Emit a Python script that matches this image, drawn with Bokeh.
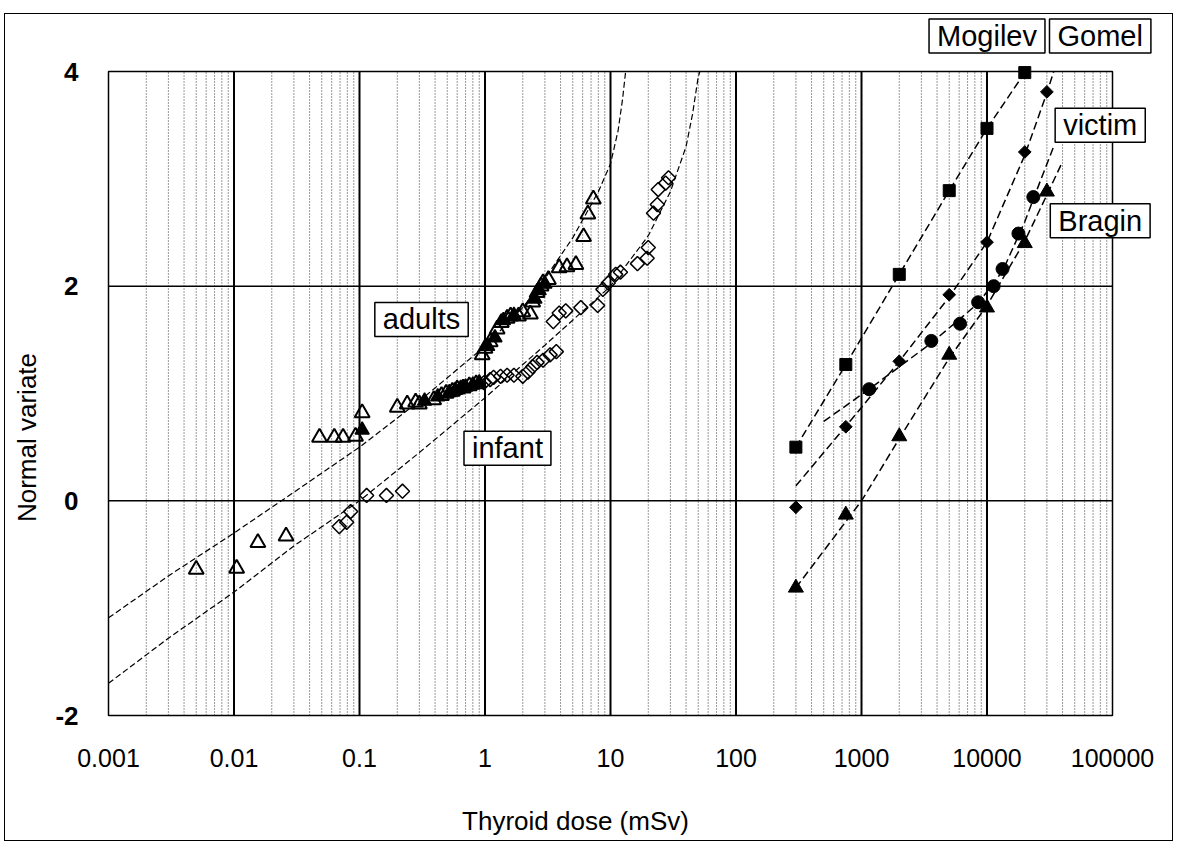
import math
from bokeh.plotting import figure
from bokeh.models import FixedTicker, Label, Range1d
from bokeh.embed import file_html
from bokeh.resources import INLINE

# ---------------- data ----------------
x_tick_labels = ["0.001", "0.01", "0.1", "1", "10", "100", "1000", "10000", "100000"]
y_tick_values = [-2, 0, 2, 4]
y_tick_labels = ["-2", "0", "2", "4"]

# adults (open triangles)
adults_x = [0.005, 0.0105, 0.0155, 0.026, 0.048, 0.063, 0.074, 0.093, 0.105, 0.20, 0.24,
            0.28, 0.30, 0.39, 0.45, 0.49, 0.55, 0.60, 0.67, 0.75, 0.85, 0.95, 1.0, 1.1,
            1.25, 1.35, 1.5, 1.6, 1.85, 2.0, 2.3, 2.4, 2.6, 2.8, 2.9, 3.2, 3.9, 4.5, 5.3,
            6.1, 6.6, 7.3]
adults_y = [-0.64, -0.63, -0.39, -0.33, 0.59, 0.59, 0.59, 0.60, 0.82, 0.87, 0.90,
            0.92, 0.90, 0.94, 0.98, 1.00, 1.02, 1.04, 1.05, 1.07, 1.09, 1.36, 1.42, 1.48,
            1.60, 1.66, 1.70, 1.72, 1.72, 1.76, 1.74, 1.85, 1.94, 2.00, 2.03, 2.06, 2.17,
            2.18, 2.20, 2.46, 2.67, 2.81]
# adults points that print solid (overlapping)
adults_solid_x = [0.105, 0.33, 0.42, 0.52, 0.58, 0.64, 0.70, 0.80, 0.90, 1.05, 1.2, 1.4,
                  1.7, 2.5, 2.7, 3.0]
adults_solid_y = [0.66, 0.93, 0.97, 1.01, 1.03, 1.05, 1.06, 1.08, 1.10, 1.44, 1.52, 1.68,
                  1.73, 1.88, 1.96, 2.02]

# infant (open diamonds)
infant_x = [0.069, 0.079, 0.085, 0.114, 0.164, 0.22, 0.98, 1.1, 1.17, 1.33, 1.5, 1.7,
            2.0, 2.2, 2.4, 2.6, 2.9, 3.3, 3.7, 3.5, 3.9, 4.4, 5.8, 7.9, 8.7, 9.6, 11,
            12, 16.4, 19.6, 20, 22, 23.6, 24, 27.5, 29]
infant_y = [-0.24, -0.20, -0.10, 0.05, 0.05, 0.09, 1.10, 1.13, 1.15, 1.16, 1.17, 1.17,
            1.16, 1.20, 1.25, 1.29, 1.31, 1.36, 1.39, 1.67, 1.75, 1.77, 1.80, 1.82, 1.97,
            2.03, 2.11, 2.13, 2.21, 2.26, 2.36, 2.68, 2.76, 2.90, 2.96, 3.01]

# fitted curves (left), ending where they leave the plot area
adults_fit_x = [0.001, 0.003, 0.01, 0.03, 0.1, 0.3, 1, 2, 3, 5, 8, 10, 11.5, 12.5, 13.2]
adults_fit_y = [-1.09, -0.70, -0.30, 0.08, 0.50, 0.93, 1.44, 1.80, 2.07, 2.45, 2.88,
                3.14, 3.45, 3.75, 4.00]
infant_fit_x = [0.001, 0.003, 0.01, 0.03, 0.1, 0.3, 1, 3, 10, 20, 30, 40, 45, 50, 51.5]
infant_fit_y = [-1.70, -1.28, -0.85, -0.42, 0.0, 0.45, 0.96, 1.45, 2.0, 2.47, 2.88,
                3.30, 3.60, 3.95, 4.00]

# right-hand groups
mogilev_x = [300, 750, 2000, 5000, 10000, 20000]
mogilev_y = [0.50, 1.27, 2.11, 2.89, 3.47, 3.99]
gomel_x = [300, 750, 2000, 5000, 10000, 20000, 30000]
gomel_y = [-0.06, 0.69, 1.30, 1.92, 2.41, 3.25, 3.81]
victim_x = [1150, 3600, 6100, 8500, 11300, 13300, 17800, 23400]
victim_y = [1.04, 1.49, 1.65, 1.85, 2.00, 2.16, 2.49, 2.83]
bragin_x = [300, 750, 2000, 5000, 10000, 20000, 30000]
bragin_y = [-0.81, -0.13, 0.60, 1.36, 1.80, 2.40, 2.88]

gomel_fit_x = [300, 1000, 2000, 5000, 10000, 20000, 30000, 34000]
gomel_fit_y = [0.14, 0.87, 1.30, 1.90, 2.41, 3.22, 3.80, 4.00]
victim_fit_x = [500, 1150, 3600, 8500, 13300, 20000, 27000, 34000]
victim_fit_y = [0.74, 1.04, 1.47, 1.84, 2.14, 2.60, 3.00, 3.30]
bragin_fit_x = [300, 1000, 2000, 5000, 10000, 20000, 30000, 40000]
bragin_fit_y = [-0.81, 0.0, 0.58, 1.33, 1.82, 2.42, 2.85, 3.16]

# boxed labels
label_text = ["adults", "infant", "Mogilev", "Gomel", "victim", "Bragin"]
label_x = [0.312, 1.51, 10000, 79800, 79800, 79800]
label_y = [1.69, 0.49, 4.33, 4.33, 3.50, 2.61]

# ---------------- layout (pixels) ----------------
FONT = "Liberation Sans"
BOX_W, BOX_H = 1004, 644              # plot box
PAD_L, PAD_R, PAD_T, PAD_B = 103, 62, 57, 127   # space around the plot box
X_TITLE_SHIFT, Y_TITLE_SHIFT = 35, 44           # axis titles sit off-centre (px)

x_ticks = [float(s) for s in x_tick_labels]
x_minor = [m * t for t in x_ticks[:-1] for m in range(2, 10)]
xmin, xmax = x_ticks[0], x_ticks[-1]
ymin, ymax = y_tick_values[0], y_tick_values[-1]
dec_px = BOX_W / (math.log10(xmax) - math.log10(xmin))
unit_px = BOX_H / (ymax - ymin)

# the frame fills the whole canvas so that the boxed labels outside the plot box are drawn
x_range = Range1d(10 ** (math.log10(xmin) - PAD_L / dec_px), 10 ** (math.log10(xmax) + PAD_R / dec_px))
y_range = Range1d(ymin - PAD_B / unit_px, ymax + PAD_T / unit_px)

p = figure(width=BOX_W + PAD_L + PAD_R, height=BOX_H + PAD_T + PAD_B, x_axis_type="log",
           x_range=x_range, y_range=y_range,
           output_backend="svg", toolbar_location=None, min_border=0)
p.title.visible = False
p.background_fill_color = "white"
p.border_fill_color = "white"
p.outline_line_color = None
p.styles = {"border": "1px solid black", "margin-left": "4px", "margin-top": "13px"}
p.grid.visible = False

# grid lines inside the plot box
n_min = len(x_minor)
p.segment(x0=x_minor, y0=[ymin] * n_min, x1=x_minor, y1=[ymax] * n_min,
          line_color="black", line_width=1, line_dash="1 2", line_alpha=0.8)
inner_x = x_ticks[1:-1]
p.segment(x0=inner_x, y0=[ymin] * len(inner_x), x1=inner_x, y1=[ymax] * len(inner_x),
          line_color="black", line_width=2)
inner_y = y_tick_values[1:-1]
p.segment(x0=[xmin] * len(inner_y), y0=inner_y, x1=[xmax] * len(inner_y), y1=inner_y,
          line_color="black", line_width=1.5)
p.quad(left=[xmin], right=[xmax], bottom=[ymin], top=[ymax],
       fill_color=None, line_color="black", line_width=1.5)

# axes placed on the plot box edges (bounds widened on one side only to move the titles)
p.xaxis.fixed_location = ymin
p.yaxis.fixed_location = xmin
p.xaxis.bounds = (10 ** (math.log10(xmin) - 2 * X_TITLE_SHIFT / dec_px), xmax)
p.yaxis.bounds = (ymin - 2 * Y_TITLE_SHIFT / unit_px, ymax)
p.xaxis.ticker = FixedTicker(ticks=x_ticks, minor_ticks=[])
p.xaxis.major_label_overrides = {t: s for t, s in zip(x_ticks, x_tick_labels)}
p.yaxis.ticker = FixedTicker(ticks=y_tick_values, minor_ticks=[])
p.yaxis.major_label_overrides = {t: s for t, s in zip(y_tick_values, y_tick_labels)}
for ax in (p.xaxis, p.yaxis):
    ax.axis_line_color = None
    ax.major_tick_line_color = None
    ax.minor_tick_line_color = None
    ax.major_label_text_font = FONT
    ax.major_label_text_color = "black"
    ax.axis_label_text_font = FONT
    ax.axis_label_text_font_style = "normal"
    ax.axis_label_text_color = "black"
p.xaxis.major_label_text_font_size = "25px"
p.xaxis.major_label_standoff = 27
p.xaxis.axis_label = "Thyroid dose (mSv)"
p.xaxis.axis_label_text_font_size = "26px"
p.xaxis.axis_label_standoff = 36
p.yaxis.major_label_text_font_size = "26px"
p.yaxis.major_label_text_font_style = "bold"
p.yaxis.major_label_standoff = 24
p.yaxis.axis_label = "Normal variate"
p.yaxis.axis_label_text_font_size = "26px"
p.yaxis.axis_label_standoff = 10

# curves
p.line(adults_fit_x, adults_fit_y, line_color="black", line_width=1.2, line_dash="6 3")
p.line(infant_fit_x, infant_fit_y, line_color="black", line_width=1.2, line_dash="6 3")
p.line(mogilev_x, mogilev_y, line_color="black", line_width=1.5, line_dash="8 4")
p.line(gomel_fit_x, gomel_fit_y, line_color="black", line_width=1.5, line_dash="8 4")
p.line(victim_fit_x, victim_fit_y, line_color="black", line_width=1.5, line_dash="8 4")
p.line(bragin_fit_x, bragin_fit_y, line_color="black", line_width=1.5, line_dash="8 4")

# markers
p.scatter(infant_x, infant_y, marker="square", angle=math.pi / 4, size=10,
          fill_color="white", fill_alpha=0.0, line_color="black", line_width=1.5)
p.scatter(adults_x, adults_y, marker="triangle", size=15,
          fill_color=None, line_color="black", line_width=2)
p.scatter(adults_solid_x, adults_solid_y, marker="triangle", size=14,
          fill_color="black", line_color="black", line_width=1.5)
p.scatter(mogilev_x, mogilev_y, marker="square", size=12, fill_color="black", line_color="black")
p.scatter(gomel_x, gomel_y, marker="square", angle=math.pi / 4, size=9,
          fill_color="black", line_color="black")
p.scatter(victim_x, victim_y, marker="circle", size=13, fill_color="black", line_color="black")
p.scatter(bragin_x, bragin_y, marker="triangle", size=15, fill_color="black", line_color="black")

# boxed labels
for t, lx, ly in zip(label_text, label_x, label_y):
    p.add_layout(Label(x=lx, y=ly, text=t, text_font=FONT, text_font_size="29px",
                       text_color="black", text_align="center", text_baseline="middle",
                       border_line_color="black", border_line_width=1.5,
                       background_fill_color="white", padding=(8, 1)))

open("out.html", "w").write(file_html(p, INLINE))
